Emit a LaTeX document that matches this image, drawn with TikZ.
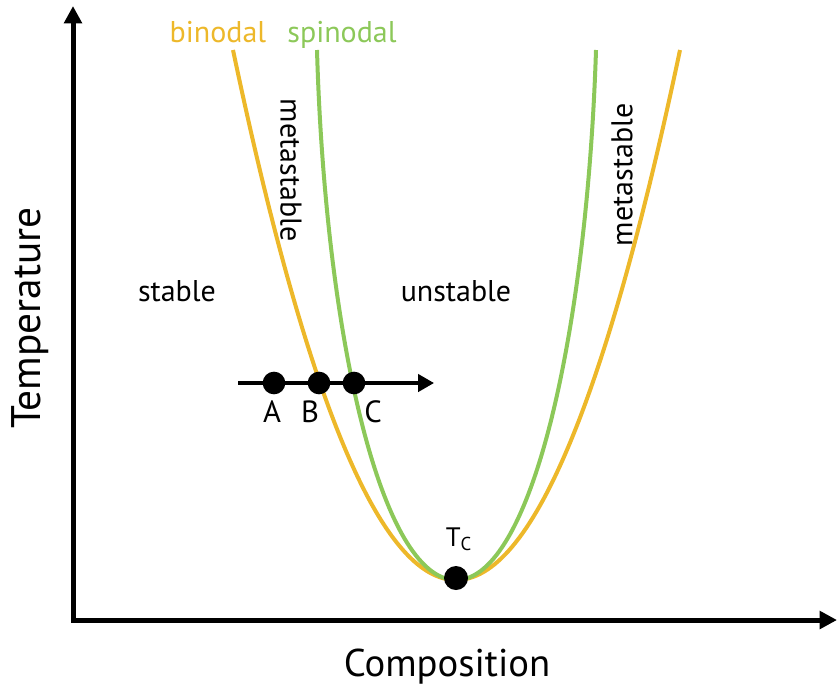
\documentclass[tikz,border=0pt]{standalone}
\usepackage{fontspec}
\setmainfont{PT Sans}
\usetikzlibrary{arrows.meta}
\definecolor{bino}{HTML}{EDB82A}
\definecolor{spino}{HTML}{8CC859}
\tikzset{
  axis/.style={line width=3.75pt,-{Triangle[length=13pt,width=13pt]}},
  path arrow/.style={line width=2.6pt,-{Triangle[length=12pt,width=13pt]}},
  binline/.style={bino,line width=3pt},
  spinline/.style={spino,line width=3pt},
  dot/.style={circle,fill=black,inner sep=0pt,minimum size=17pt},
  lbl/.style={font=\fontsize{22.5}{26}\selectfont},
  pt/.style={font=\fontsize{23}{26}\selectfont}
}
\begin{document}
\begin{tikzpicture}[x=0.75pt,y=-0.75pt]
\useasboundingbox (0,0) rectangle (837,686);
\coordinate (O) at (73,620);
\coordinate (Ytop) at (73,6);
\coordinate (Xend) at (837,620);
\draw[axis] ([yshift=-1.4pt]O) -- (Ytop);
\draw[axis] ([xshift=-1.4pt]O) -- (Xend);
% binodal (parabola)
\draw[binline] (233,50) .. controls (307.33,403.33) and (381.67,580) .. (456,580) .. controls (530.67,580) and (605.33,403.33) .. (680,50);
% spinodal
\draw[spinline] (317,50) .. controls (325,330) and (380,580) .. (456,580) .. controls (532,580) and (587,330) .. (596,50);
% labels
\node[lbl,text=bino,anchor=base] (binlab) at (218,42) {binodal};
\node[lbl,text=spino,anchor=base] (spinlab) at (342,42) {spinodal};
\node[lbl,anchor=base] (stable) at (177,301) {stable};
\node[lbl,anchor=base] (unstable) at (456,301) {unstable};
\node[lbl,rotate=-90] (metaL) at (291,170) {metastable};
\node[lbl,rotate=90] (metaR) at (622,175) {metastable};
\node[font=\fontsize{31}{34}\selectfont,rotate=90] (temp) at (30,318) {Temperature};
\node[font=\fontsize{29}{32}\selectfont,anchor=base] (comp) at (447,676) {Composition};
% path
\coordinate (s) at (238,383);
\coordinate (e) at (434,383);
\draw[path arrow] (s) -- (e);
\node[dot] (A) at (274,383) {};
\node[dot] (B) at (319,383) {};
\node[dot] (C) at (354,383) {};
\node[pt,anchor=base] (Alab) at (272,422) {A};
\node[pt,anchor=base] (Blab) at (310,422) {B};
\node[pt,anchor=base] (Clab) at (373,422) {C};
\node[dot,minimum size=18pt] (Tc) at (456,578) {};
\node[font=\fontsize{20}{22}\selectfont,anchor=base] (Tclab) at (459,546) {T\textsubscript{C}};
\end{tikzpicture}
\end{document}
